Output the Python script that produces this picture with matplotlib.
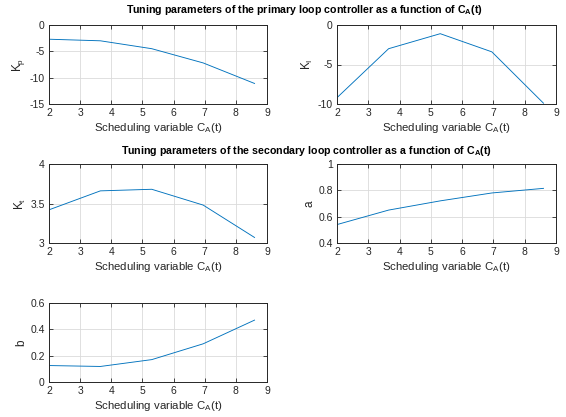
import matplotlib
matplotlib.use("Agg")
import matplotlib.pyplot as plt

# scheduling variable C_A(t)
ca = [2.0, 3.65, 5.3, 6.95, 8.6]

# primary loop
kp = [-2.7, -3.0, -4.5, -7.2, -11.1]
ki = [-9.2, -3.0, -1.1, -3.4, -9.9]

# secondary loop
kt = [3.42, 3.66, 3.68, 3.48, 3.07]
a_par = [0.54, 0.65, 0.72, 0.78, 0.815]
b_par = [0.125, 0.118, 0.17, 0.29, 0.47]

plt.rcParams["font.family"] = ["Liberation Sans", "DejaVu Sans"]
plt.rcParams["mathtext.fontset"] = "custom"
plt.rcParams["mathtext.rm"] = "Liberation Sans"
plt.rcParams["mathtext.it"] = "Liberation Sans"
plt.rcParams["mathtext.bf"] = "Liberation Sans:bold"

LINE = (0, 0.447, 0.741)
TXT = (0.15, 0.15, 0.15)

W, H = 566, 417
fig = plt.figure(figsize=(W / 100, H / 100), dpi=100)


def make_ax(x0, x1, y0, y1):
    # pixel box (top-left origin) -> figure fraction
    return fig.add_axes([x0 / W, 1 - y1 / H, (x1 - x0) / W, (y1 - y0) / H])


panels = [
    ((49, 267, 25, 104), kp, r"K$_\mathrm{p}$", (-15, 0), [-15, -10, -5, 0]),
    ((337, 556, 25, 104), ki, r"K$_\mathrm{I}$", (-10, 0), [-10, -5, 0]),
    ((49, 267, 164, 243), kt, r"K$_\mathrm{t}$", (3, 4), [3, 3.5, 4]),
    ((337, 556, 164, 243), a_par, "a", (0.4, 1), [0.4, 0.6, 0.8, 1]),
    ((49, 267, 303, 382), b_par, "b", (0, 0.6), [0, 0.2, 0.4, 0.6]),
]

for box, vals, ylab, ylim, yt in panels:
    ax = make_ax(*box)
    ax.plot(ca, vals, color=LINE, lw=0.65)
    ax.set_xlim(2, 9)
    ax.set_ylim(*ylim)
    ax.set_xticks(range(2, 10))
    ax.set_yticks(yt)
    ax.set_yticklabels([f"{v:g}" for v in yt])
    ax.grid(True, color=(0.86, 0.86, 0.86), lw=0.6)
    ax.set_axisbelow(True)
    ax.tick_params(direction="in", length=3, width=0.6, labelsize=7.5,
                   colors=TXT, top=True, right=True, pad=3)
    for s in ax.spines.values():
        s.set_color(TXT)
        s.set_linewidth(0.7)
    ax.set_xlabel(r"Scheduling variable C$_\mathrm{A}$(t)", fontsize=8.2, color=TXT, labelpad=2)
    ax.set_ylabel(ylab, fontsize=8.5, color=TXT, labelpad=2)

fig.text(304 / W, 1 - 10 / H,
         r"Tuning parameters of the primary loop controller as a function of C$_\mathbf{A}$(t)",
         ha="center", va="center", fontsize=7.7, fontweight="bold")
fig.text(307 / W, 1 - 151 / H,
         r"Tuning parameters of the secondary loop controller as a function of C$_\mathbf{A}$(t)",
         ha="center", va="center", fontsize=7.7, fontweight="bold")

fig.savefig("out.png", dpi=100)
